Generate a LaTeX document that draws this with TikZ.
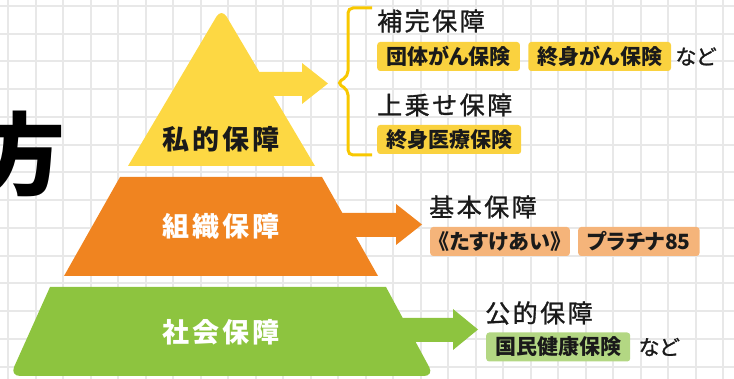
\documentclass[tikz,border=0pt]{standalone}
\usepackage{fontspec}
\usepackage{tikz}
\usetikzlibrary{positioning}

\newfontfamily\jpfont{Noto Sans CJK JP}[RawFeature=+palt]
\newfontfamily\jpnote{Noto Sans CJK JP}[RawFeature=+palt, FakeBold=1.2]
\newfontfamily\jphead{Noto Sans CJK JP}[LetterSpace=10, FakeBold=1.2]
\newfontfamily\jplevel{Noto Sans CJK JP}[LetterSpace=12]

\definecolor{hoshoyellow}{HTML}{FDD843}
\definecolor{hoshoorange}{HTML}{F08420}
\definecolor{hoshogreen}{HTML}{8DC43F}
\definecolor{tagyellow}{HTML}{FAD23F}
\definecolor{tagorange}{HTML}{F5B47A}
\definecolor{taggreen}{HTML}{B3D783}
\definecolor{braceyellow}{HTML}{F8C800}
\definecolor{gridgray}{HTML}{E8E8E8}
\definecolor{inkblack}{HTML}{1A1A1A}

\begin{document}
\begin{tikzpicture}[x=1pt,y=-1pt,
    level/.style={inner sep=0pt, font=\jplevel\bfseries\fontsize{27}{27}\selectfont},
    head/.style={anchor=west, inner sep=0pt, text=inkblack,
      font=\jphead\fontsize{25}{25}\selectfont},
    tag/.style={rounded corners=3pt, inner xsep=9pt, inner ysep=0pt,
      minimum height=29pt, text=inkblack,
      font=\jpfont\bfseries\fontsize{21}{21}\selectfont},
    note/.style={inner sep=0pt, text=inkblack,
      font=\jpnote\fontsize{21}{21}\selectfont}
  ]
  \useasboundingbox (0,0) rectangle (734,379);
  % grid paper
  \foreach \gx in {0,...,26}
    \draw[gridgray, line width=2pt] ({8.3+27.5*\gx},0) -- ++(0,379);
  \foreach \gy in {0,...,13}
    \draw[gridgray, line width=2pt] (0,{6+27.75*\gy}) -- ++(734,0);

  % block arrows
  \fill[hoshoyellow] (255,72) -- (302,72) -- (302,63) -- (328,83.5)
    -- (302,104) -- (302,96) -- (255,96) -- cycle;
  \fill[hoshoorange] (340,213) -- (396,213) -- (396,204) -- (422,224.5)
    -- (396,245) -- (396,237) -- (340,237) -- cycle;
  \fill[hoshogreen] (395,318) -- (453,318) -- (453,309) -- (478,329.5)
    -- (453,350) -- (453,342) -- (395,342) -- cycle;

  % pyramid
  \fill[hoshoyellow] (128,166) [rounded corners=10pt] -- (221.5,8)
    [sharp corners] -- (315,166) -- cycle;
  \fill[hoshoorange] (120,177) -- (322,177) -- (378,276) -- (64,276) -- cycle;
  \fill[hoshogreen] (50,287) -- (386,287) [rounded corners=10pt] -- (434,376)
    -- (10,376) [sharp corners] -- cycle;

  \node[level, text=inkblack] (shiteki) at (221,139) {私的保障};
  \node[level, white] (soshiki) at (221,226) {組織保障};
  \node[level, white] (shakai) at (221,332) {社会保障};

  % brace
  \draw[braceyellow, line width=3pt, rounded corners=5pt]
    (372,8) -- (348,8) -- (348,76) -- (337,83) -- (348,90) -- (348,155) -- (372,155);

  % 私的保障
  \node[head] (hokan) at (377,21) {補完保障};
  \node[tag, fill=tagyellow, anchor=west] (dantaigan) at (377,56.5) {団体がん保険};
  \node[tag, fill=tagyellow, right=8pt of dantaigan] (shushingan) {終身がん保険};
  \node[note, right=4pt of shushingan] (nado1) {など};
  \node[head] (uwanose) at (377,105) {上乗せ保障};
  \node[tag, fill=tagyellow, anchor=west] (iryo) at (377,139.5) {終身医療保険};

  % 組織保障
  \node[head] (kihon) at (429,207) {基本保障};
  \node[tag, fill=tagorange, anchor=west] (tasukeai) at (430,241.5) {《たすけあい》};
  \node[tag, fill=tagorange, right=8pt of tasukeai] (platina) {プラチナ85};

  % 社会保障
  \node[head] (kouteki) at (485,313) {公的保障};
  \node[tag, fill=taggreen, anchor=west] (kokuho) at (486,347) {国民健康保険};
  \node[note, right=8pt of kokuho] (nado2) {など};

  % title (cut off)
  \node[inner sep=0pt, anchor=east, text=black,
    font=\jpfont\bfseries\fontsize{90}{90}\selectfont] (kata) at (66,154) {方};
\end{tikzpicture}
\end{document}
